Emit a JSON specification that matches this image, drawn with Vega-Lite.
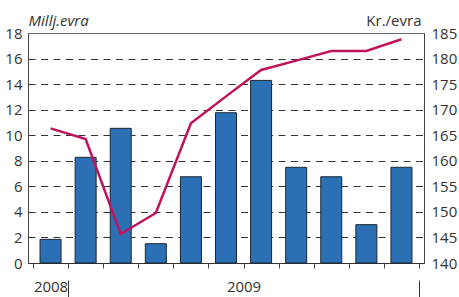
{
  "$schema": "https://vega.github.io/schema/vega-lite/v6.json",
  "width": 396,
  "height": 230,
  "autosize": {"type": "none"},
  "padding": {"left": 28, "top": 33, "right": 35, "bottom": 34},
  "config": {
    "font": "Open Sans",
    "view": {"stroke": "#6a6a6a", "strokeWidth": 1},
    "axis": {
      "labelFont": "Open Sans",
      "labelFontSize": 15,
      "labelColor": "#333333",
      "titleFont": "Open Sans",
      "titleFontSize": 15,
      "titleFontWeight": "normal",
      "titleColor": "#333333",
      "domainColor": "#444444",
      "tickColor": "#444444"
    }
  },
  "data": {
    "values": [
      {"t": 0, "value": 1.85, "rate": 166.35},
      {"t": 1, "value": 8.27, "rate": 164.26},
      {"t": 2, "value": 10.54, "rate": 145.67},
      {"t": 3, "value": 1.51, "rate": 149.78},
      {"t": 4, "value": 6.75, "rate": 167.33},
      {"t": 5, "value": 11.76, "rate": 172.6},
      {"t": 6, "value": 14.29, "rate": 177.76},
      {"t": 7, "value": 7.49, "rate": 179.6},
      {"t": 8, "value": 6.75, "rate": 181.48},
      {"t": 9, "value": 3.0, "rate": 181.5},
      {"t": 10, "value": 7.49, "rate": 183.77}
    ]
  },
  "resolve": {"scale": {"y": "independent"}, "axis": {"x": "independent", "y": "independent"}},
  "layer": [
    {
      "mark": {"type": "bar", "width": 21, "fill": "#2b70b5", "stroke": "#1b2633", "strokeWidth": 1},
      "encoding": {
        "x": {
          "field": "t", "type": "quantitative",
          "scale": {"domain": [-0.5, 10.5], "nice": false, "zero": false},
          "axis": {
            "orient": "bottom",
            "values": [-0.5, 0.5, 1.5, 2.5, 3.5, 4.5, 5.5, 6.5, 7.5, 8.5, 9.5, 10.5],
            "labels": false, "tickSize": 5, "grid": false, "title": null,
            "domainColor": "#333333"
          }
        },
        "y": {
          "field": "value", "type": "quantitative",
          "scale": {"domain": [0, 18], "nice": false},
          "axis": {
            "orient": "left",
            "values": [0, 2, 4, 6, 8, 10, 12, 14, 16, 18],
            "ticks": false, "tickSize": 0, "labelPadding": 6,
            "grid": true, "gridDash": [7, 5.5], "gridColor": "#333333",
            "gridOpacity": {"condition": {"test": "datum.value == 0 || datum.value == 18", "value": 0}, "value": 1},
            "title": "Millj.evra", "titleAngle": 0, "titleAlign": "left", "titleBaseline": "alphabetic",
            "titleFontStyle": "italic", "titleX": 0, "titleY": -8
          }
        }
      }
    },
    {
      "mark": {"type": "line", "color": "#c0135c", "strokeWidth": 2.5},
      "encoding": {
        "x": {
          "field": "t", "type": "quantitative",
          "scale": {"domain": [-0.5, 10.5], "nice": false, "zero": false},
          "axis": {
            "orient": "bottom", "offset": 17,
            "values": [0, 0.5, 5.5, 10.5],
            "domain": false, "grid": false, "title": null,
            "tickSize": 17,
            "tickColor": {"condition": {"test": "datum.value == 0.5 || datum.value == 10.5", "value": "#333333"}, "value": "transparent"},
            "labelExpr": "datum.value == 0 ? '2008' : datum.value == 5.5 ? '2009' : ''",
            "labelPadding": -18, "labelOverlap": false, "labelFlush": false
          }
        },
        "y": {
          "field": "rate", "type": "quantitative",
          "scale": {"domain": [140, 185], "nice": false, "zero": false},
          "axis": {
            "orient": "right",
            "values": [140, 145, 150, 155, 160, 165, 170, 175, 180, 185],
            "ticks": false, "tickSize": 0, "labelPadding": 7, "grid": false,
            "title": "Kr./evra", "titleAngle": 0, "titleAlign": "right", "titleBaseline": "alphabetic",
            "titleX": -3, "titleY": -8
          }
        }
      }
    }
  ]
}
